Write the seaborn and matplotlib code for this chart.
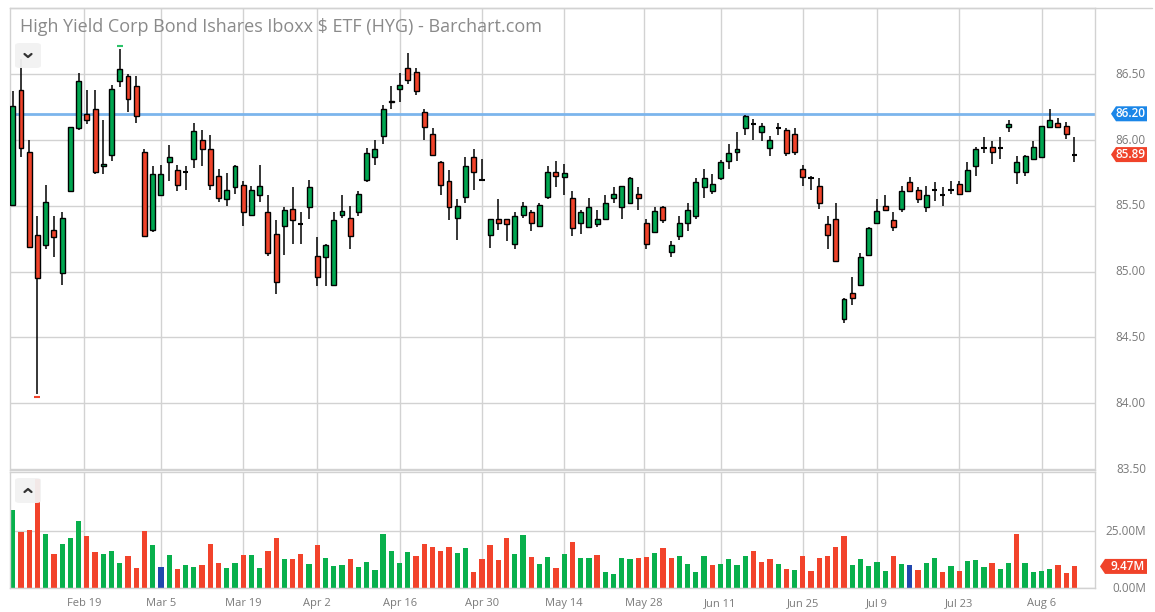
import numpy as np
import pandas as pd
import matplotlib.pyplot as plt
import seaborn as sns
from matplotlib.patches import Polygon, FancyBboxPatch
from matplotlib.lines import Line2D

# HYG daily candles, 6 Feb 2018 - 10 Aug 2018
opens = [85.51, 86.38, 85.91, 85.28, 85.20, 85.32, 84.99, 85.61, 86.09, 86.20,
         86.24, 85.80, 85.89, 86.45, 86.49, 86.41, 85.91, 85.32, 85.58, 85.83,
         85.77, 85.76, 85.86, 86.00, 85.93, 85.73, 85.55, 85.64, 85.66, 85.43,
         85.58, 85.45, 85.29, 85.35, 85.48, 85.36, 85.49, 85.12, 85.11, 84.90,
         85.43, 85.41, 85.45, 85.70, 85.87, 86.03, 86.30, 86.39, 86.55, 86.52,
         86.21, 86.05, 85.83, 85.69, 85.41, 85.57, 85.87, 85.70, 85.28, 85.40,
         85.40, 85.21, 85.43, 85.45, 85.35, 85.57, 85.76, 85.72, 85.56, 85.37,
         85.34, 85.36, 85.40, 85.56, 85.49, 85.52, 85.59, 85.37, 85.30, 85.49,
         85.15, 85.27, 85.37, 85.42, 85.64, 85.61, 85.71, 85.84, 85.91, 86.09,
         86.12, 86.06, 85.94, 86.09, 86.08, 86.05, 85.78, 85.71, 85.65, 85.36,
         85.40, 84.64, 84.84, 84.90, 85.13, 85.37, 85.50, 85.39, 85.48, 85.68,
         85.62, 85.49, 85.62, 85.58, 85.62, 85.67, 85.61, 85.80, 85.94, 85.95,
         85.94, 86.10, 85.76, 85.76, 85.86, 85.87, 86.10, 86.13, 86.11, 85.89]
highs = [86.37, 86.62, 86.00, 85.42, 85.66, 85.42, 85.45, 86.10, 86.51, 86.38,
         86.38, 86.15, 86.42, 86.69, 86.50, 86.49, 85.93, 85.80, 85.81, 85.96,
         85.81, 85.80, 86.13, 86.08, 86.04, 85.78, 85.75, 85.81, 85.69, 85.65,
         85.81, 85.58, 85.39, 85.49, 85.64, 85.45, 85.70, 85.26, 85.21, 85.45,
         85.58, 85.50, 85.61, 85.94, 86.00, 86.27, 86.41, 86.51, 86.66, 86.55,
         86.24, 86.09, 85.84, 85.77, 85.55, 85.87, 85.93, 85.86, 85.40, 85.55,
         85.40, 85.45, 85.53, 85.47, 85.52, 85.80, 85.84, 85.82, 85.61, 85.47,
         85.56, 85.47, 85.58, 85.64, 85.65, 85.72, 85.64, 85.40, 85.49, 85.50,
         85.23, 85.42, 85.52, 85.71, 85.78, 85.74, 85.85, 85.97, 86.06, 86.19,
         86.16, 86.13, 86.03, 86.13, 86.09, 86.09, 85.81, 85.73, 85.71, 85.42,
         85.52, 84.80, 84.96, 85.14, 85.34, 85.55, 85.58, 85.45, 85.65, 85.72,
         85.64, 85.65, 85.68, 85.64, 85.69, 85.69, 85.83, 85.95, 86.02, 85.99,
         86.02, 86.15, 85.88, 85.89, 85.99, 86.11, 86.24, 86.17, 86.14, 86.02]
lows = [85.51, 85.87, 85.18, 84.07, 85.17, 85.11, 84.90, 85.61, 86.08, 86.12,
        85.74, 85.74, 85.84, 86.40, 86.21, 86.13, 85.27, 85.30, 85.58, 85.69,
        85.61, 85.62, 85.79, 85.80, 85.62, 85.53, 85.50, 85.59, 85.35, 85.43,
        85.53, 85.12, 84.83, 85.13, 85.21, 85.21, 85.40, 84.89, 84.89, 84.90,
        85.41, 85.17, 85.42, 85.68, 85.81, 85.97, 86.24, 86.29, 86.43, 86.34,
        86.00, 85.88, 85.58, 85.39, 85.24, 85.52, 85.62, 85.69, 85.18, 85.32,
        85.23, 85.17, 85.41, 85.31, 85.35, 85.55, 85.64, 85.58, 85.27, 85.29,
        85.34, 85.34, 85.40, 85.52, 85.40, 85.52, 85.47, 85.17, 85.30, 85.37,
        85.11, 85.24, 85.31, 85.40, 85.56, 85.59, 85.70, 85.78, 85.84, 86.04,
        86.00, 85.99, 85.88, 86.04, 85.88, 85.89, 85.65, 85.62, 85.48, 85.17,
        85.07, 84.61, 84.75, 84.90, 85.12, 85.37, 85.47, 85.31, 85.45, 85.61,
        85.52, 85.45, 85.54, 85.50, 85.59, 85.59, 85.61, 85.73, 85.90, 85.82,
        85.86, 86.06, 85.67, 85.73, 85.86, 85.87, 86.09, 86.09, 86.01, 85.83]
closes = [86.26, 85.94, 85.19, 84.95, 85.53, 85.26, 85.41, 86.10, 86.45, 86.15,
          85.76, 85.82, 86.39, 86.54, 86.31, 86.18, 85.27, 85.74, 85.74, 85.87,
          85.66, 85.76, 86.07, 85.93, 85.66, 85.56, 85.62, 85.80, 85.45, 85.62,
          85.65, 85.14, 84.92, 85.47, 85.39, 85.36, 85.64, 84.96, 85.20, 85.39,
          85.46, 85.27, 85.59, 85.90, 85.93, 86.24, 86.29, 86.42, 86.46, 86.37,
          86.10, 85.89, 85.66, 85.49, 85.50, 85.80, 85.76, 85.70, 85.40, 85.37,
          85.36, 85.42, 85.50, 85.37, 85.51, 85.76, 85.73, 85.75, 85.33, 85.45,
          85.49, 85.40, 85.52, 85.59, 85.65, 85.71, 85.56, 85.21, 85.46, 85.39,
          85.20, 85.37, 85.47, 85.68, 85.71, 85.67, 85.83, 85.90, 85.93, 86.18,
          86.12, 86.11, 86.00, 86.09, 85.90, 85.91, 85.72, 85.71, 85.52, 85.28,
          85.08, 84.79, 84.80, 85.11, 85.33, 85.46, 85.47, 85.34, 85.61, 85.61,
          85.55, 85.58, 85.62, 85.58, 85.62, 85.59, 85.77, 85.93, 85.94, 85.91,
          85.94, 86.12, 85.83, 85.88, 85.95, 86.11, 86.15, 86.10, 86.05, 85.89]

# volume in millions, colour by close vs previous close (g up, r down, b unchanged)
volumes = [34.2, 24.7, 25.4, 47.8, 23.7, 14.9, 19.3, 21.9, 29.4, 22.8,
           15.8, 14.9, 16.2, 11.0, 14.0, 8.8, 25.0, 18.9, 9.2, 14.5,
           8.3, 10.1, 9.2, 10.1, 19.3, 11.0, 8.8, 11.0, 14.5, 14.5,
           8.8, 16.2, 21.9, 12.7, 12.7, 14.9, 10.5, 18.9, 13.2, 9.6,
           10.1, 12.7, 9.2, 11.4, 7.9, 23.7, 16.2, 11.0, 15.8, 14.0,
           19.3, 18.0, 16.2, 18.0, 15.4, 17.5, 7.0, 12.7, 18.9, 12.3,
           21.9, 14.9, 23.2, 13.6, 10.5, 13.6, 8.8, 14.9, 20.2, 13.2,
           13.2, 14.5, 7.0, 6.1, 13.2, 12.7, 13.2, 13.6, 15.4, 17.5,
           13.2, 14.0, 10.5, 7.0, 14.0, 10.1, 10.5, 12.7, 10.1, 14.0,
           16.2, 11.4, 12.7, 10.5, 8.3, 7.9, 14.0, 7.5, 13.2, 14.0,
           18.0, 22.8, 10.1, 12.7, 9.6, 11.4, 7.5, 14.0, 10.5, 10.1,
           7.9, 11.0, 13.2, 7.0, 9.6, 7.5, 11.8, 12.3, 9.2, 11.0,
           8.3, 11.0, 23.7, 11.0, 7.0, 7.5, 8.3, 10.1, 6.6, 9.47]
vol_dir = list("grrrgrgggr" "rgggrrrgbg" "rggrrrggrg" "grrgrrgrgg" "grgggggggr"
               "rrrrggrrrr" "rggrggrgrg" "grggggrrgr" "rggggrgggg" "rrrgrgrrrr"
               "rrgggggrgb" "rggrgrgggr" "ggrggggrrr")

first_day, last_day = '2018-02-06', '2018-08-10'
holidays = ['2018-02-19', '2018-03-30', '2018-05-28', '2018-07-04']
tick_dates = ['2018-02-19', '2018-03-05', '2018-03-19', '2018-04-02', '2018-04-16',
              '2018-04-30', '2018-05-14', '2018-05-28', '2018-06-11', '2018-06-25',
              '2018-07-09', '2018-07-23', '2018-08-06']
price_ticks = [83.5, 84.0, 84.5, 85.0, 85.5, 86.0, 86.5]
vol_ticks = [0, 25]
level = 86.20
title = "High Yield Corp Bond Ishares Iboxx $ ETF (HYG) - Barchart.com"

green, red = '#00a650', '#f0432a'
vcolors = {'g': '#08b04c', 'r': '#f2432b', 'b': '#2148ae'}
grid_c = '#d2d2d2'
lab_c = '#7a7a7a'

sns.set_style('white')
plt.rcParams['font.family'] = ['Open Sans', 'DejaVu Sans']

W, H = 1155, 612
fig = plt.figure(figsize=(W / 100, H / 100), dpi=100)


def fx(px):
    return px / W


def fy(py):
    return 1 - py / H


ax = fig.add_axes([fx(10), fy(470), fx(1095) - fx(10), fy(8) - fy(470)])
axv = fig.add_axes([fx(10), fy(588), fx(1095) - fx(10), fy(472) - fy(588)])

days = pd.bdate_range(first_day, last_day, freq='C', holidays=holidays)
tick_pos = []
for d in pd.to_datetime(tick_dates):
    p = float(days.searchsorted(d))
    if d not in days:
        p -= 0.3
    tick_pos.append(p)
tick_lab = [f"{d:%b} {d.day}" for d in pd.to_datetime(tick_dates)]

x = np.arange(len(opens))
o, h, l, c = map(np.array, (opens, highs, lows, closes))
doji = np.abs(c - o) < 0.006
cols = np.where(c > o, green, red)

# candles
ax.vlines(x, l, h, color='black', lw=1.1, zorder=3)
ax.bar(x[~doji], np.abs(c - o)[~doji], bottom=np.minimum(o, c)[~doji], width=0.6,
       color=cols[~doji], edgecolor='black', lw=1, zorder=4)
ax.hlines(c[doji], x[doji] - 0.32, x[doji] + 0.32, color='black', lw=1.5, zorder=4)
ax.plot(x[h.argmax()], h.max() + 0.025, marker='_', ms=5, mew=1.5, color='#2bc46a', zorder=5)
ax.plot(x[l.argmin()], l.min() - 0.025, marker='_', ms=5, mew=1.5, color=red, zorder=5)
ax.axhline(level, color='#7cb5ec', lw=2, zorder=2)

ax.set_xlim(-0.34, 131.5)
ax.set_ylim(83.493, 87.004)
ax.set_xticks(tick_pos)
ax.set_yticks(price_ticks)
ax.tick_params(length=0, labelbottom=False, labelleft=False)
ax.grid(True, color=grid_c, lw=1)
ax.set_axisbelow(True)

# volume
vdf = pd.DataFrame({'x': x, 'vol': volumes, 'dir': vol_dir})
sns.barplot(data=vdf, x='x', y='vol', hue='dir', palette=vcolors, native_scale=True,
            dodge=False, width=0.64, errorbar=None, legend=False, saturation=1,
            linewidth=0, ax=axv)
axv.set_xlim(-0.34, 131.5)
axv.set_ylim(0, 50.9)
axv.set_xlabel('')
axv.set_ylabel('')
axv.set_yticks(vol_ticks)
axv.set_xticks(tick_pos)
axv.set_xticklabels(tick_lab)
axv.tick_params(axis='y', length=0, labelleft=False)
axv.tick_params(axis='x', length=5, color=grid_c, labelcolor=lab_c, labelsize=8, pad=2)
axv.grid(True, color=grid_c, lw=1)
axv.set_axisbelow(True)

for a in (ax, axv):
    for s in a.spines.values():
        s.set_color(grid_c)
        s.set_linewidth(1)

fig.add_artist(Line2D([fx(10), fx(1152)], [fy(7.5), fy(7.5)], color=grid_c, lw=1))

# right-hand labels
fig.canvas.draw()


def ypx(a, v):
    return H - a.transData.transform((0, v))[1]


for v in price_ticks:
    fig.text(fx(1146), fy(ypx(ax, v)), f"{v:.2f}", ha='right', va='center',
             fontsize=8.5, color=lab_c)
for v in vol_ticks:
    fig.text(fx(1146), fy(ypx(axv, v)), f"{v:.2f}M", ha='right', va='center',
             fontsize=8.5, color=lab_c)


def tag(yc, text, color, left=1111):
    pts = [(left, yc), (left + 5, yc - 7.5), (1147, yc - 7.5), (1147, yc + 7.5), (left + 5, yc + 7.5)]
    fig.add_artist(Polygon([(fx(px), fy(py)) for px, py in pts], closed=True,
                           transform=fig.transFigure, facecolor=color, edgecolor='none'))
    fig.text(fx(1145), fy(yc), text, ha='right', va='center', fontsize=8.5,
             color='white', fontweight='semibold')


tag(ypx(ax, level), f"{level:.2f}", '#1a86e8')
tag(ypx(ax, closes[-1]), f"{closes[-1]:.2f}", '#f0432a')
tag(ypx(axv, volumes[-1]), f"{volumes[-1]:.2f}M", '#f0432a', left=1100)

# title and collapse buttons
fig.text(fx(20), fy(27.5), title, ha='left', va='center', fontsize=13, color='#8a8a8a')
for (bx, by, up) in [(15, 43, False), (15, 478, True)]:
    fig.add_artist(FancyBboxPatch((fx(bx), fy(by + 25)), fx(26), 25 / H,
                                  boxstyle='round,pad=0,rounding_size=0.004',
                                  transform=fig.transFigure, facecolor='#f2f2f2',
                                  edgecolor='none', alpha=0.95, zorder=10))
    cx, cy = bx + 13, by + 12.5
    d = -1.5 if up else 1.5
    fig.add_artist(Line2D([fx(cx - 3.5), fx(cx), fx(cx + 3.5)],
                          [fy(cy - d), fy(cy + d), fy(cy - d)],
                          color='#333333', lw=1.6, zorder=11))

fig.savefig('out.png', dpi=100)
